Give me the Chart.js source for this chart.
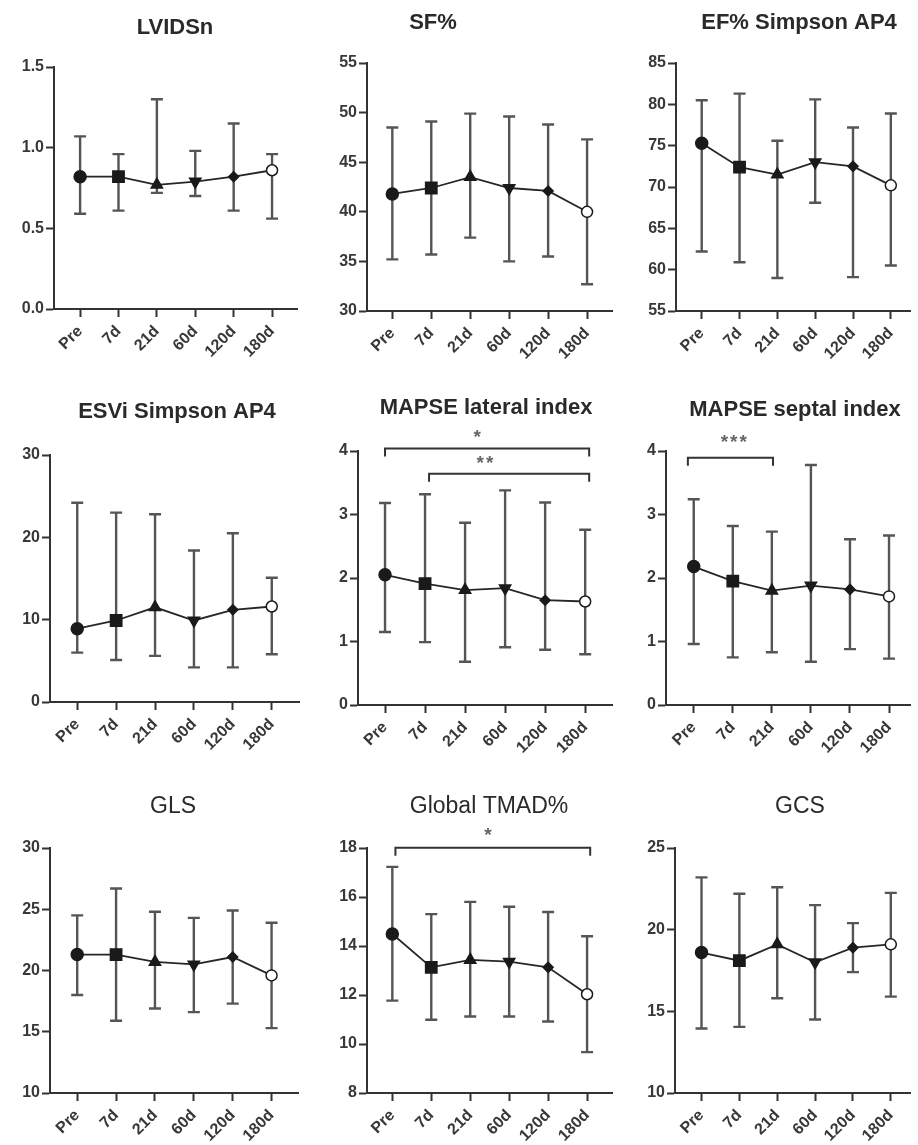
<!DOCTYPE html>
<html>
<head>
<meta charset="utf-8">
<script src="https://cdn.jsdelivr.net/npm/chart.js@4.4.1/dist/chart.umd.min.js"></script>
<style>
  html, body { margin: 0; padding: 0; background: #fff; }
  #wrap { position: relative; width: 918px; height: 1145px; overflow: hidden; background: #fff; }
  #wrap canvas { position: absolute; left: 0; top: 0; }
</style>
</head>
<body>
<div id="wrap"></div>
<script>
const timepoints = ["Pre", "7d", "21d", "60d", "120d", "180d"];

// values: mean, upper and lower end of each bar
const lvidsnMean = [0.82, 0.82, 0.77, 0.79, 0.82, 0.86];
const lvidsnHigh = [1.07, 0.96, 1.30, 0.98, 1.15, 0.96];
const lvidsnLow = [0.59, 0.61, 0.72, 0.70, 0.61, 0.56];

const sfMean = [41.8, 42.4, 43.5, 42.4, 42.1, 40.0];
const sfHigh = [48.5, 49.1, 49.9, 49.6, 48.8, 47.3];
const sfLow = [35.2, 35.7, 37.4, 35.0, 35.5, 32.7];

const efMean = [75.3, 72.4, 71.5, 73.0, 72.5, 70.2];
const efHigh = [80.5, 81.3, 75.6, 80.6, 77.2, 78.9];
const efLow = [62.2, 60.9, 59.0, 68.1, 59.1, 60.5];

const esviMean = [8.9, 9.9, 11.5, 9.9, 11.2, 11.6];
const esviHigh = [24.2, 23.0, 22.8, 18.4, 20.5, 15.1];
const esviLow = [6.0, 5.1, 5.6, 4.2, 4.2, 5.8];

const mapseLatMean = [2.05, 1.91, 1.81, 1.84, 1.65, 1.63];
const mapseLatHigh = [3.18, 3.32, 2.87, 3.38, 3.19, 2.76];
const mapseLatLow = [1.15, 0.99, 0.68, 0.91, 0.87, 0.80];

const mapseSepMean = [2.18, 1.95, 1.80, 1.88, 1.82, 1.71];
const mapseSepHigh = [3.24, 2.82, 2.73, 3.78, 2.61, 2.67];
const mapseSepLow = [0.96, 0.75, 0.83, 0.68, 0.88, 0.73];

const glsMean = [21.3, 21.3, 20.7, 20.5, 21.1, 19.6];
const glsHigh = [24.5, 26.7, 24.8, 24.3, 24.9, 23.9];
const glsLow = [18.0, 15.9, 16.9, 16.6, 17.3, 15.3];

const tmadMean = [14.49, 13.13, 13.43, 13.36, 13.13, 12.03];
const tmadHigh = [17.23, 15.30, 15.80, 15.60, 15.39, 14.40];
const tmadLow = [11.77, 10.99, 11.12, 11.12, 10.92, 9.67];

const gcsMean = [18.6, 18.1, 19.1, 18.0, 18.9, 19.1];
const gcsHigh = [23.2, 22.2, 22.6, 21.5, 20.4, 22.25];
const gcsLow = [13.95, 14.05, 15.8, 14.5, 17.4, 15.9];

// significance brackets: from/to on the time axis, y level, star text
const mapseLatBrackets = [
  { from: 0, to: 5.1, y: 4.04, text: "*", textX: 2.33, textY: 4.27 },
  { from: 1.1, to: 5.1, y: 3.64, text: "**", textX: 2.52, textY: 3.87 },
];
const mapseSepBrackets = [
  { from: -0.15, to: 2.03, y: 3.895, text: "***", textX: 1.05, textY: 4.19 },
];
const tmadBrackets = [
  { from: 0.08, to: 5.08, y: 18.01, text: "*", textX: 2.48, textY: 18.68 },
];

const panels = [
  { title: "LVIDSn", mean: lvidsnMean, high: lvidsnHigh, low: lvidsnLow, yMin: 0, yMax: 1.5, yStep: 0.5, decimals: 1, brackets: [] },
  { title: "SF%", mean: sfMean, high: sfHigh, low: sfLow, yMin: 30, yMax: 55, yStep: 5, decimals: 0, brackets: [] },
  { title: "EF% Simpson AP4", mean: efMean, high: efHigh, low: efLow, yMin: 55, yMax: 85, yStep: 5, decimals: 0, brackets: [] },
  { title: "ESVi Simpson AP4", mean: esviMean, high: esviHigh, low: esviLow, yMin: 0, yMax: 30, yStep: 10, decimals: 0, brackets: [] },
  { title: "MAPSE lateral index", mean: mapseLatMean, high: mapseLatHigh, low: mapseLatLow, yMin: 0, yMax: 4, yStep: 1, decimals: 0, brackets: mapseLatBrackets },
  { title: "MAPSE septal index", mean: mapseSepMean, high: mapseSepHigh, low: mapseSepLow, yMin: 0, yMax: 4, yStep: 1, decimals: 0, brackets: mapseSepBrackets },
  { title: "GLS", mean: glsMean, high: glsHigh, low: glsLow, yMin: 10, yMax: 30, yStep: 5, decimals: 0, brackets: [] },
  { title: "Global TMAD%", mean: tmadMean, high: tmadHigh, low: tmadLow, yMin: 8, yMax: 18, yStep: 2, decimals: 0, brackets: tmadBrackets },
  { title: "GCS", mean: gcsMean, high: gcsHigh, low: gcsLow, yMin: 10, yMax: 25, yStep: 5, decimals: 0, brackets: [] },
];

// where each plot sits on the page (chart area in page pixels)
const frames = [
  { left: 54, top: 67, right: 297, bottom: 309, titleX: 175, titleY: 28, xMin: -0.68, xMax: 5.65, bold: true },
  { left: 367, top: 63, right: 612, bottom: 311, titleX: 433, titleY: 23, xMin: -0.65, xMax: 5.64, bold: true },
  { left: 676, top: 63, right: 918, bottom: 311, titleX: 799, titleY: 23, xMin: -0.68, xMax: 5.52, bold: true },
  { left: 50, top: 455, right: 299, bottom: 702, titleX: 177, titleY: 412, xMin: -0.70, xMax: 5.70, bold: true },
  { left: 358, top: 451, right: 612, bottom: 705, titleX: 486, titleY: 408, xMin: -0.675, xMax: 5.67, bold: true },
  { left: 666, top: 451, right: 918, bottom: 705, titleX: 795, titleY: 410, xMin: -0.71, xMax: 5.55, bold: true },
  { left: 50, top: 848, right: 298, bottom: 1093, titleX: 173, titleY: 807, xMin: -0.70, xMax: 5.68, bold: false },
  { left: 367, top: 848, right: 612, bottom: 1093, titleX: 489, titleY: 807, xMin: -0.65, xMax: 5.64, bold: false },
  { left: 675, top: 848, right: 918, bottom: 1093, titleX: 800, titleY: 807, xMin: -0.70, xMax: 5.52, bold: false },
];

const PAGE_W = 918;
const PAGE_H = 1145;
const Y_AXIS_W = 45;
const X_AXIS_H = 60;
const ink = "#333";

Chart.defaults.font.family = 'Arial, "Liberation Sans", Helvetica, sans-serif';
Chart.defaults.font.size = 16;
Chart.defaults.font.weight = "bold";
Chart.defaults.color = "#383838";

const errorBars = {
  id: "errorBars",
  beforeDatasetsDraw(chart) {
    const ds = chart.data.datasets[0];
    const { ctx } = chart;
    const x = chart.scales.x;
    const y = chart.scales.y;
    const cap = 6;
    ctx.save();
    ctx.strokeStyle = "#555";
    ctx.lineWidth = 2.4;
    ds.errHigh.forEach((hi, i) => {
      const px = x.getPixelForValue(i);
      const top = y.getPixelForValue(hi);
      const bot = y.getPixelForValue(ds.errLow[i]);
      ctx.beginPath();
      ctx.moveTo(px, top);
      ctx.lineTo(px, bot);
      ctx.moveTo(px - cap, top);
      ctx.lineTo(px + cap, top);
      ctx.moveTo(px - cap, bot);
      ctx.lineTo(px + cap, bot);
      ctx.stroke();
    });
    ctx.restore();
  },
};

const sigBrackets = {
  id: "sigBrackets",
  afterDraw(chart) {
    const items = chart.data.datasets[0].brackets || [];
    if (!items.length) return;
    const { ctx } = chart;
    const x = chart.scales.x;
    const y = chart.scales.y;
    ctx.save();
    items.forEach((b) => {
      const x1 = x.getPixelForValue(b.from);
      const x2 = x.getPixelForValue(b.to);
      const py = y.getPixelForValue(b.y);
      ctx.strokeStyle = ink;
      ctx.lineWidth = 2;
      ctx.beginPath();
      ctx.moveTo(x1, py + 8);
      ctx.lineTo(x1, py);
      ctx.lineTo(x2, py);
      ctx.lineTo(x2, py + 8);
      ctx.stroke();

      ctx.font = 'bold 19px Arial, "Liberation Sans", sans-serif';
      ctx.letterSpacing = "2px";
      ctx.fillStyle = "#666";
      ctx.textAlign = "center";
      ctx.textBaseline = "alphabetic";
      const m = ctx.measureText(b.text);
      const ty = y.getPixelForValue(b.textY);
      ctx.fillText(b.text, x.getPixelForValue(b.textX), ty + (m.actualBoundingBoxAscent - m.actualBoundingBoxDescent) / 2);
    });
    ctx.restore();
  },
};

const panelTitle = {
  id: "panelTitle",
  afterDraw(chart, args, opts) {
    const { ctx } = chart;
    ctx.save();
    ctx.font = opts.font;
    ctx.fillStyle = "#2a2a2a";
    ctx.textAlign = "center";
    ctx.textBaseline = "middle";
    ctx.fillText(opts.text, opts.x, opts.y);
    ctx.restore();
  },
};

const wrap = document.getElementById("wrap");

panels.forEach((p, k) => {
  const f = frames[k];
  const canvas = document.createElement("canvas");
  canvas.width = PAGE_W;
  canvas.height = PAGE_H;
  canvas.style.width = PAGE_W + "px";
  canvas.style.height = PAGE_H + "px";
  wrap.appendChild(canvas);

  new Chart(canvas, {
    type: "line",
    data: {
      datasets: [
        {
          data: p.mean.map((v, i) => ({ x: i, y: v })),
          errHigh: p.high,
          errLow: p.low,
          brackets: p.brackets,
          borderColor: "#262626",
          borderWidth: 1.8,
          tension: 0,
          clip: false,
          pointStyle: ["circle", "rect", "triangle", "triangle", "rectRot", "circle"],
          rotation: [0, 0, 0, 180, 0, 0],
          pointRadius: [6, 8, 6.5, 6.5, 5, 5.5],
          pointBackgroundColor: ["#1a1a1a", "#1a1a1a", "#1a1a1a", "#1a1a1a", "#1a1a1a", "#ffffff"],
          pointBorderColor: "#1a1a1a",
          pointBorderWidth: 1.5,
        },
      ],
    },
    options: {
      responsive: false,
      animation: false,
      devicePixelRatio: 1,
      layout: {
        padding: {
          left: f.left - Y_AXIS_W,
          top: f.top,
          right: PAGE_W - f.right,
          bottom: PAGE_H - f.bottom - X_AXIS_H,
        },
      },
      scales: {
        x: {
          type: "linear",
          min: f.xMin,
          max: f.xMax,
          afterBuildTicks: (axis) => {
            axis.ticks = timepoints.map((_, i) => ({ value: i }));
          },
          afterFit: (axis) => {
            axis.height = X_AXIS_H;
          },
          ticks: {
            autoSkip: false,
            minRotation: 45,
            maxRotation: 45,
            padding: 5,
            callback: (v) => timepoints[v],
          },
          grid: { drawOnChartArea: false, tickLength: 8, tickWidth: 2, tickColor: ink },
          border: { color: ink, width: 2 },
        },
        y: {
          min: p.yMin,
          max: p.yMax,
          afterFit: (axis) => {
            axis.width = Y_AXIS_W;
          },
          ticks: {
            stepSize: p.yStep,
            padding: 2,
            callback: (v) => Number(v).toFixed(p.decimals),
          },
          grid: { drawOnChartArea: false, tickLength: 8, tickWidth: 2, tickColor: ink },
          border: { color: ink, width: 2 },
        },
      },
      plugins: {
        legend: { display: false },
        tooltip: { enabled: false },
        panelTitle: {
          text: p.title,
          x: f.titleX,
          y: f.titleY,
          font: (f.bold ? "bold 22px" : "normal 23px") + ' Arial, "Liberation Sans", sans-serif',
        },
      },
    },
    plugins: [errorBars, sigBrackets, panelTitle],
  });
});
</script>
</body>
</html>
